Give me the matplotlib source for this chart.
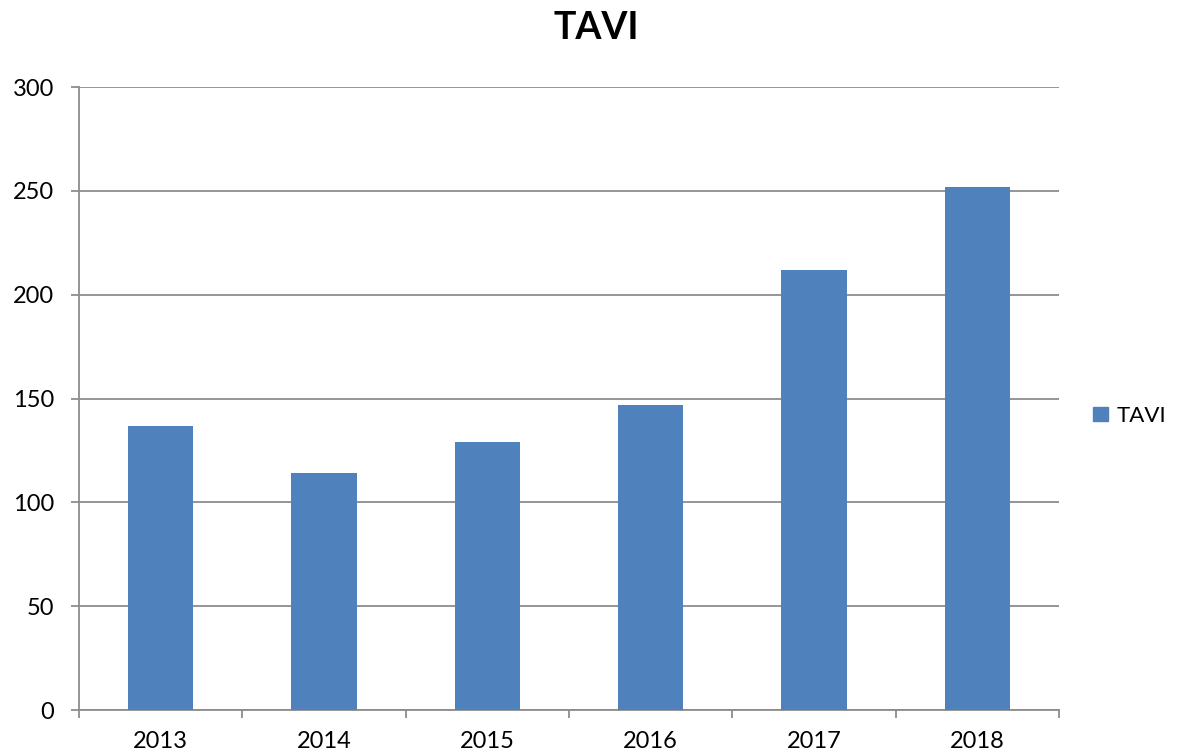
import matplotlib.pyplot as plt
from matplotlib.patches import Patch

plt.rcParams['font.family'] = ['Lato', 'DejaVu Sans']

years = ['2013', '2014', '2015', '2016', '2017', '2018']
tavi = [137, 114, 129, 147, 212, 252]
yticks = [0, 50, 100, 150, 200, 250, 300]

bar_color = '#4F81BD'
grid_color = '#8C8C8C'

fig = plt.figure(figsize=(11.77, 7.56), dpi=100)
ax = fig.add_axes([0.0671, 0.0608, 0.8326, 0.8241])

x = range(len(years))
ax.bar(x, tavi, width=0.4, color=bar_color, zorder=3)

ax.set_xlim(-0.5, len(years) - 0.5)
ax.set_ylim(0, 300)
ax.set_yticks(yticks)
ax.set_xticks(list(x))
ax.set_xticklabels(years)
ax.set_xticks([i - 0.5 for i in range(len(years) + 1)], minor=True)

ax.tick_params(axis='x', which='major', length=0, pad=15, labelsize=17)
ax.tick_params(axis='x', which='minor', length=6, color=grid_color, width=1.3)
ax.tick_params(axis='y', length=6, color=grid_color, width=1.3, pad=12, labelsize=17)

ax.yaxis.grid(True, color=grid_color, linewidth=1.3, zorder=0)
for side in ['top', 'right']:
    ax.spines[side].set_visible(False)
for side in ['left', 'bottom']:
    ax.spines[side].set_color(grid_color)
    ax.spines[side].set_linewidth(1.3)

fig.text(0.507, 0.963, 'TAVI', ha='center', va='center', fontsize=27, fontweight='bold')

fig.legend(handles=[Patch(color=bar_color, label='TAVI')], loc='center left',
           bbox_to_anchor=(0.912, 0.45), frameon=False, fontsize=16,
           handlelength=0.65, handleheight=0.65, handletextpad=0.4)

fig.savefig('out.png', dpi=100)
